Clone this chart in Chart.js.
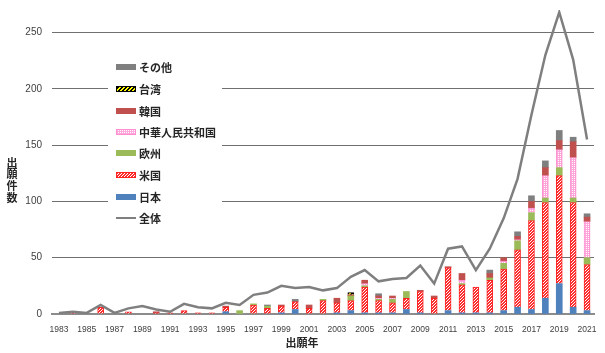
<!DOCTYPE html>
<html>
<head>
<meta charset="utf-8">
<script src="https://cdn.jsdelivr.net/npm/chart.js@4/dist/chart.umd.min.js"></script>
<style>
  html, body { margin: 0; padding: 0; background: #fff; }
  #wrap { width: 605px; height: 353px; }
</style>
</head>
<body>
<div id="wrap"><canvas id="c" width="605" height="353"></canvas></div>
<script>
// ---- data ----
const years = ['1983','1984','1985','1986','1987','1988','1989','1990','1991','1992',
  '1993','1994','1995','1996','1997','1998','1999','2000','2001','2002',
  '2003','2004','2005','2006','2007','2008','2009','2010','2011','2012',
  '2013','2014','2015','2016','2017','2018','2019','2020','2021'];

const japan  = [0,0,0,0,0,0,0,0,0,0, 0,0,2,0,0,0,1,4,0,0, 1,3,1,1,1,4,1,0,3,1, 1,1,3,6,4,14,27,6,3];
const usa    = [0,1,0,6,0,2,0,1,1,3, 1,1,4,0,8,5,6,7,5,12, 9,9,23,11,9,10,19,14,38,25, 23,29,37,51,79,85,96,93,41];
const europe = [0,0,0,0,0,0,0,0,0,0, 0,0,0,3,1,2,0,0,0,1, 0,4,1,1,3,6,0,0,0,1, 0,2,5,8,7,4,7,4,6];
const china  = [0,0,0,0,0,0,0,0,0,0, 0,0,0,0,0,0,0,0,0,0, 0,0,2,1,1,0,0,0,0,3, 0,0,2,1,4,20,16,36,32];
const korea  = [0,0,0,0,0,0,0,1,0,0, 0,0,1,0,0,0,1,0,3,0, 4,1,3,2,2,0,1,2,1,6, 0,4,3,3,6,7,8,14,4];
const taiwan = [0,0,0,0,0,0,0,0,0,0, 0,0,0,0,0,0,0,0,0,0, 0,2,0,0,0,0,0,0,0,0, 0,0,0,0,0,0,0,0,0];
const other  = [0,0,0,0,0,0,0,0,0,0, 0,0,0,0,0,1,0,2,0,0, 0,0,0,2,0,0,0,0,0,0, 0,3,0,4,5,6,9,4,3];
const total  = [1,2,1,8,1,5,7,4,2,9, 6,5,10,8,17,19,25,23,24,21, 23,33,39,29,31,32,43,27,58,60, 39,58,85,120,177,230,268,226,155];

const yTicks = [0,50,100,150,200,250];

// ---- patterns ----
function makePattern(w, h, bg, fg, fn) {
  const c = document.createElement('canvas');
  c.width = w; c.height = h;
  const x = c.getContext('2d');
  x.fillStyle = bg; x.fillRect(0, 0, w, h);
  x.fillStyle = fg;
  for (let i = 0; i < w; i++) for (let j = 0; j < h; j++) if (fn(i, j)) x.fillRect(i, j, 1, 1);
  return x.createPattern(c, 'repeat');
}
const usFill = makePattern(3, 3, '#ff2e2e', '#ffffff', (i, j) => (i + j) % 3 === 0);
const cnFill = makePattern(4, 4, '#ffa6da', '#ffffff', (i, j) => i % 2 === 0 && j % 2 === 0);
const twFill = makePattern(4, 4, '#ffff00', '#000000', (i, j) => (i + j) % 4 < 2);

const nz = a => a.map(v => v === 0 ? null : v);

const series = [
  { label: '日本', data: japan, bg: '#4f81bd', border: null },
  { label: '米国', data: usa, bg: usFill, border: '#ff2020' },
  { label: '欧州', data: europe, bg: '#9bbb59', border: null },
  { label: '中華人民共和国', data: china, bg: cnFill, border: '#ff8fd0' },
  { label: '韓国', data: korea, bg: '#c0504d', border: null },
  { label: '台湾', data: taiwan, bg: twFill, border: '#000000' },
  { label: 'その他', data: other, bg: '#7f7f7f', border: null }
];

const datasets = series.map(s => ({
  type: 'bar',
  label: s.label,
  data: nz(s.data),
  backgroundColor: s.bg,
  borderColor: s.border || s.bg,
  borderWidth: s.border ? 1 : 0,
  barThickness: 6,
  stack: 'bars',
  order: 1
}));
datasets.push({
  type: 'line',
  label: '全体',
  data: total,
  borderColor: '#7f7f7f',
  borderWidth: 2.5,
  pointRadius: 0,
  tension: 0,
  fill: false,
  stack: 'line',
  order: 0
});

const JP = '"Noto Sans CJK JP", "Noto Sans", sans-serif';

const overlay = {
  id: 'overlay',
  beforeDatasetsDraw(chart) {
    const ctx = chart.ctx;
    ctx.save();
    // legend background (covers grid lines like the original)
    ctx.fillStyle = '#ffffff';
    ctx.fillRect(108, 55, 114, 180);
    const order = ['その他', '台湾', '韓国', '中華人民共和国', '欧州', '米国', '日本', '全体'];
    const ys = [67, 89, 111, 132, 153, 175, 197, 218];
    ctx.font = 'bold 11px ' + JP;
    ctx.textBaseline = 'middle';
    ctx.textAlign = 'left';
    order.forEach((name, k) => {
      const ds = chart.data.datasets.find(d => d.label === name);
      const y = ys[k];
      if (ds.type === 'line') {
        ctx.strokeStyle = ds.borderColor;
        ctx.lineWidth = 2;
        ctx.beginPath(); ctx.moveTo(116, y); ctx.lineTo(136, y); ctx.stroke();
      } else {
        ctx.fillStyle = ds.backgroundColor;
        ctx.fillRect(116, y - 3, 20, 6);
        if (ds.borderWidth) {
          ctx.strokeStyle = ds.borderColor;
          ctx.lineWidth = 1;
          ctx.strokeRect(116.5, y - 2.5, 19, 5);
        }
      }
      ctx.fillStyle = '#262626';
      ctx.fillText(name, 139, y + 0.5);
    });
    ctx.restore();
  },
  afterDraw(chart) {
    const ctx = chart.ctx;
    ctx.save();
    ctx.fillStyle = '#262626';
    ctx.font = 'bold 11px ' + JP;
    ctx.textAlign = 'center';
    ctx.textBaseline = 'middle';
    const chars = ['出', '願', '件', '数'];
    const cy = [162.5, 174.2, 185.8, 197.5];
    chars.forEach((ch, i) => ctx.fillText(ch, 12, cy[i]));
    ctx.fillText('出願年', 302, 343);
    ctx.restore();
  }
};

new Chart(document.getElementById('c'), {
  data: { labels: years, datasets },
  options: {
    responsive: false,
    animation: false,
    devicePixelRatio: 1,
    layout: { padding: { left: 0, right: 11, top: 10, bottom: 0 } },
    plugins: { legend: { display: false }, tooltip: { enabled: false } },
    scales: {
      x: {
        stacked: true,
        grid: { display: true, drawOnChartArea: false, drawTicks: false },
        border: { display: true, color: '#8c8c8c', width: 2 },
        ticks: {
          autoSkip: false, maxRotation: 0, minRotation: 0,
          padding: 11,
          color: '#404040',
          font: { family: '"Liberation Sans", Arial, sans-serif', size: 8.5 },
          callback: (v, i) => i % 2 === 0 ? years[i] : ''
        },
        afterFit: s => { s.height = 39; s.paddingLeft = 0; s.paddingRight = 0; }
      },
      y: {
        stacked: true,
        min: 0, max: 270,
        grid: { color: '#707070', lineWidth: 1, drawTicks: false },
        border: { display: false },
        afterBuildTicks: s => { s.ticks = yTicks.map(v => ({ value: v })); },
        ticks: {
          padding: 10,
          color: '#404040',
          font: { family: '"Liberation Sans", Arial, sans-serif', size: 10 }
        },
        afterFit: s => { s.width = 52; s.paddingTop = 0; s.paddingBottom = 0; }
      }
    }
  },
  plugins: [overlay]
});
</script>
</body>
</html>
